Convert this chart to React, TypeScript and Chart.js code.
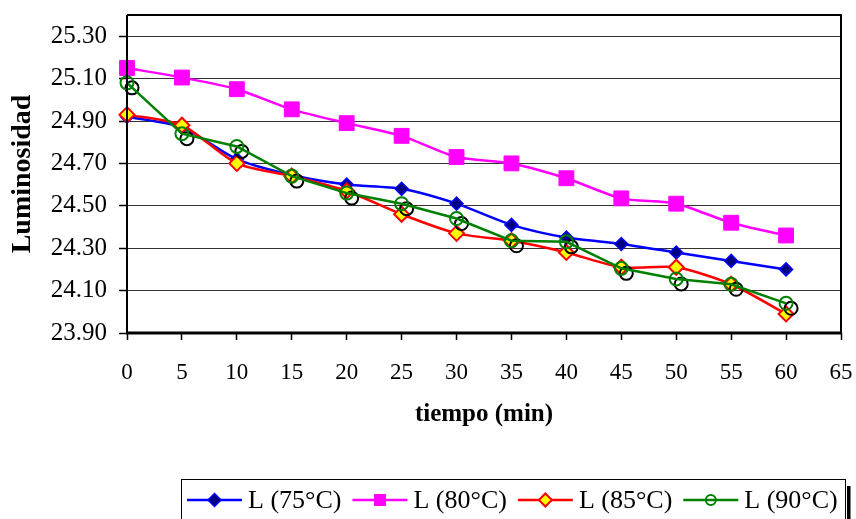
import React, { useEffect, useRef } from 'react';
import { Chart, registerables } from 'chart.js';

Chart.register(...registerables);

// ---- data ----
const times = [0, 5, 10, 15, 20, 25, 30, 35, 40, 45, 50, 55, 60];
const l75 = [24.92, 24.87, 24.72, 24.645, 24.6, 24.58, 24.51, 24.41, 24.35, 24.32, 24.28, 24.24, 24.2];
const l80 = [25.15, 25.105, 25.05, 24.955, 24.89, 24.83, 24.73, 24.7, 24.63, 24.535, 24.51, 24.42, 24.36];
const l85 = [24.93, 24.88, 24.7, 24.64, 24.57, 24.46, 24.37, 24.335, 24.28, 24.21, 24.21, 24.13, 23.99];
const l90 = [25.08, 24.84, 24.78, 24.64, 24.56, 24.51, 24.44, 24.335, 24.33, 24.205, 24.155, 24.13, 24.04];
const seriesLabels = ['L (75°C)', 'L (80°C)', 'L (85°C)', 'L (90°C)'];
const yTicks = [23.9, 24.1, 24.3, 24.5, 24.7, 24.9, 25.1, 25.3];
const xTicks = [0, 5, 10, 15, 20, 25, 30, 35, 40, 45, 50, 55, 60, 65];
const xTitle = 'tiempo (min)';
const yTitle = 'Luminosidad';

const FONT = '"Liberation Serif", "Times New Roman", serif';

const toPts = (vals: number[]) => vals.map((v, i) => ({ x: times[i], y: v }));

function drawMarker(ctx: CanvasRenderingContext2D, style: string, x: number, y: number, r: number, fill: string, stroke: string, lw: number) {
  ctx.save();
  ctx.beginPath();
  if (style === 'diamond') {
    ctx.moveTo(x, y - r);
    ctx.lineTo(x + r, y);
    ctx.lineTo(x, y + r);
    ctx.lineTo(x - r, y);
    ctx.closePath();
  } else if (style === 'square') {
    ctx.rect(x - r, y - r, 2 * r, 2 * r);
  } else {
    ctx.arc(x, y, r, 0, Math.PI * 2);
  }
  if (fill) {
    ctx.fillStyle = fill;
    ctx.fill();
  }
  if (stroke) {
    ctx.strokeStyle = stroke;
    ctx.lineWidth = lw;
    ctx.stroke();
  }
  ctx.restore();
}

const legendStyles = [
  { color: '#0000FF', marker: 'diamond', r: 6.5, fill: '#000080', stroke: '#0000FF', lw: 1.5 },
  { color: '#FF00FF', marker: 'square', r: 5.5, fill: '#FF00FF', stroke: '#FF00FF', lw: 1 },
  { color: '#FF0000', marker: 'diamond', r: 6.5, fill: '#FFFF00', stroke: '#FF0000', lw: 2 },
  { color: '#008000', marker: 'circle', r: 5, fill: '', stroke: '#008000', lw: 2 },
];

const boxPlugin = {
  id: 'boxPlugin',
  beforeDatasetDraw(chart: any, args: any) {
    if (args.index !== 3) return;
    const ctx = chart.ctx;
    const meta = chart.getDatasetMeta(3);
    ctx.save();
    meta.data.forEach((pt: any) => {
      ctx.beginPath();
      ctx.arc(pt.x + 5, pt.y + 5, 6.5, 0, Math.PI * 2);
      ctx.strokeStyle = '#000';
      ctx.lineWidth = 2;
      ctx.stroke();
    });
    ctx.restore();
  },
  afterDraw(chart: any) {
    const ctx = chart.ctx;
    const a = chart.chartArea;
    ctx.save();
    ctx.strokeStyle = '#000';
    ctx.lineWidth = 2;
    ctx.beginPath();
    ctx.moveTo(a.left, a.top);
    ctx.lineTo(a.right, a.top);
    ctx.lineTo(a.right, a.bottom);
    ctx.stroke();
    ctx.lineWidth = 2;
    ctx.beginPath();
    ctx.moveTo(a.left, a.bottom);
    ctx.lineTo(a.left, a.top);
    ctx.stroke();
    ctx.lineWidth = 3;
    ctx.beginPath();
    ctx.moveTo(a.left - 1, a.bottom);
    ctx.lineTo(a.right + 1, a.bottom);
    ctx.stroke();

    // legend
    ctx.lineWidth = 1;
    ctx.strokeStyle = '#000';
    ctx.strokeRect(181.5, 479.5, 664, 50);
    ctx.fillStyle = '#000';
    ctx.fillRect(847, 486, 3.5, 40);
    ctx.font = '26px ' + FONT;
    ctx.textBaseline = 'middle';
    ctx.textAlign = 'left';
    let x = 187;
    const y = 500;
    chart.data.datasets.forEach((ds: any, i: number) => {
      const st = legendStyles[i];
      ctx.strokeStyle = st.color;
      ctx.lineWidth = 2.5;
      ctx.beginPath();
      ctx.moveTo(x, y);
      ctx.lineTo(x + 55, y);
      ctx.stroke();
      drawMarker(ctx, st.marker, x + 27.5, y, st.r, st.fill, st.stroke, st.lw);
      ctx.fillStyle = '#000';
      ctx.fillText(ds.label, x + 61, y + 1);
      const w = ctx.measureText(ds.label).width;
      x += 61 + w + 11;
    });
    ctx.restore();
  },
};

export default function App() {
  const ref = useRef<HTMLCanvasElement | null>(null);
  useEffect(() => {
    if (!ref.current) return;
    Chart.defaults.font.family = FONT;
    Chart.defaults.color = '#000';
    const chart = new Chart(ref.current, {
      type: 'line',
      data: {
        datasets: [
          {
            label: seriesLabels[0],
            data: toPts(l75),
            borderColor: '#0000FF',
            borderWidth: 2.5,
            pointStyle: 'rectRot',
            pointRadius: 6.5,
            pointBackgroundColor: '#000080',
            pointBorderColor: '#0000FF',
            pointBorderWidth: 1.5,
            tension: 0.25,
            order: 4,
          },
          {
            label: seriesLabels[1],
            data: toPts(l80),
            borderColor: '#FF00FF',
            borderWidth: 2.5,
            pointStyle: 'rect',
            pointRadius: 10.5,
            pointBackgroundColor: '#FF00FF',
            pointBorderColor: '#FF00FF',
            pointBorderWidth: 1,
            tension: 0.25,
            order: 3,
          },
          {
            label: seriesLabels[2],
            data: toPts(l85),
            borderColor: '#FF0000',
            borderWidth: 2.5,
            pointStyle: 'rectRot',
            pointRadius: 7.5,
            pointBackgroundColor: '#FFFF00',
            pointBorderColor: '#FF0000',
            pointBorderWidth: 2,
            tension: 0.25,
            order: 2,
          },
          {
            label: seriesLabels[3],
            data: toPts(l90),
            borderColor: '#008000',
            borderWidth: 2.5,
            pointStyle: 'circle',
            pointRadius: 6.5,
            pointBackgroundColor: 'rgba(0,0,0,0)',
            pointBorderColor: '#008000',
            pointBorderWidth: 2,
            tension: 0,
            order: 1,
          },
        ],
      },
      options: {
        responsive: false,
        animation: false,
        clip: false,
        layout: { padding: { left: 0, top: 15, right: 15, bottom: 0 } },
        plugins: { legend: { display: false }, tooltip: { enabled: false } },
        scales: {
          x: {
            type: 'linear',
            min: 0,
            max: 65,
            afterBuildTicks: (s: any) => {
              s.ticks = xTicks.map((v) => ({ value: v }));
            },
            afterFit: (s: any) => {
              s.height = 186;
              s.paddingLeft = 0;
              s.paddingRight = 0;
            },
            ticks: {
              font: { size: 23 },
              color: '#000',
              padding: 19,
              maxRotation: 0,
              autoSkip: false,
              callback: (v: any) => String(v),
            },
            grid: { drawOnChartArea: false, drawTicks: true, tickLength: 7, tickColor: '#000', tickWidth: 1.5 },
            border: { display: false },
            title: {
              display: true,
              text: xTitle,
              font: { size: 25, weight: 'bold' },
              color: '#000',
              padding: { top: 0, bottom: 89 },
            },
          },
          y: {
            type: 'linear',
            min: 23.9,
            max: 25.4,
            afterBuildTicks: (s: any) => {
              s.ticks = yTicks.map((v) => ({ value: v }));
            },
            afterFit: (s: any) => {
              s.width = 127;
              s.paddingTop = 0;
              s.paddingBottom = 0;
            },
            ticks: {
              font: { size: 25 },
              color: '#000',
              padding: 12,
              autoSkip: false,
              callback: (v: any) => Number(v).toFixed(2),
            },
            grid: { color: '#333', lineWidth: 1, tickLength: 8, tickColor: '#000', tickWidth: 1.5 },
            border: { display: false },
            title: {
              display: true,
              text: yTitle,
              font: { size: 28, weight: 'bold' },
              color: '#000',
              padding: { top: 6, bottom: 0 },
            },
          },
        },
      },
      plugins: [boxPlugin],
    } as any);
    return () => chart.destroy();
  }, []);
  return (
    <div style={{ position: 'absolute', left: 0, top: 0, width: 856, height: 519, background: '#fff' }}>
      <canvas ref={ref} width={856} height={519} style={{ display: 'block' }} />
    </div>
  );
}
